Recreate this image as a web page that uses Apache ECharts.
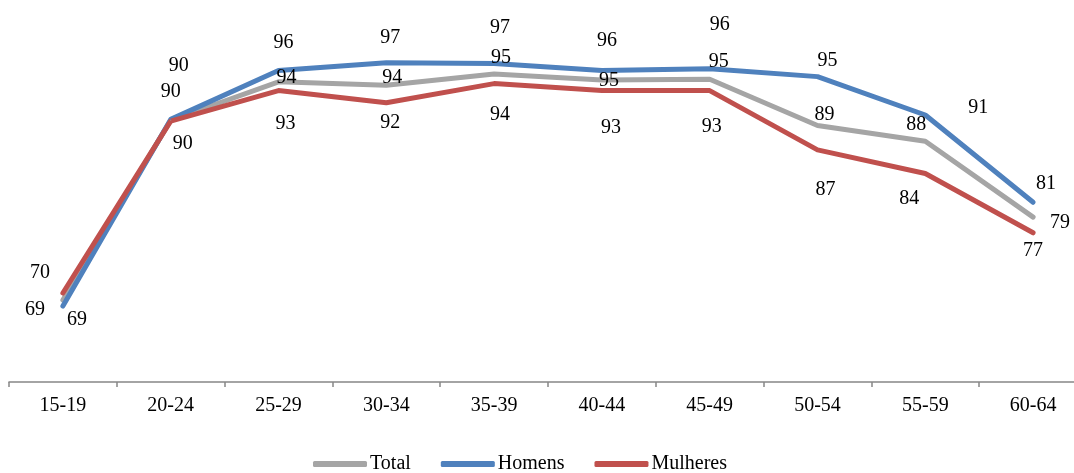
<!DOCTYPE html>
<html>
<head>
<meta charset="utf-8">
<script src="https://cdn.jsdelivr.net/npm/echarts@6/dist/echarts.min.js"></script>
<style>
  html, body { margin: 0; padding: 0; background: #ffffff; overflow: hidden; }
  /* the category axis runs a little past the right edge of the window */
  #chart { width: 1090px; height: 473px; }
</style>
</head>
<body>
<div id="chart"></div>
<script>
// Age groups
const categories = ['15-19', '20-24', '25-29', '30-34', '35-39', '40-44', '45-49', '50-54', '55-59', '60-64'];

// Rates by age group (%)
const totalValues    = [69.4, 90.0, 94.4, 94.0, 95.3, 94.6, 94.7, 89.4, 87.6, 78.9];
const homensValues   = [68.7, 90.1, 95.7, 96.6, 96.5, 95.7, 95.9, 95.0, 90.6, 80.6];
const mulheresValues = [70.2, 89.9, 93.4, 92.0, 94.2, 93.4, 93.4, 86.6, 83.9, 77.1];

// Hand-placed nudges for each value label, [dx, dy] from its point
const totalNudge    = [[-28, 10], [0, -29], [8, -4], [6, -8], [7, -16], [7, 1], [9, -17], [7, -11], [-9, -16], [27, 6]];
const homensNudge   = [[14, 14], [8, -54], [5, -28], [4, -25], [6, -36], [5, -30], [10, -44], [10, -16], [53, -7], [13, -19]];
const mulheresNudge = [[-23, -20], [12, 23], [7, 33], [4, 20], [6, 31], [9, 37], [2, 36], [8, 40], [-16, 25], [0, 18]];

const FONT = "'Liberation Serif', 'DejaVu Serif', serif";

function lineSeries(name, color, values, nudges) {
  return {
    name: name,
    type: 'line',
    symbol: 'circle',
    symbolSize: 1,
    showSymbol: true,
    color: color,
    itemStyle: { color: color },
    lineStyle: { width: 5, color: color, cap: 'round', join: 'round' },
    label: {
      show: true,
      position: 'inside',
      align: 'center',
      verticalAlign: 'middle',
      fontFamily: FONT,
      fontSize: 20,
      color: '#000000',
      formatter: p => Math.round(p.value).toString()
    },
    data: values.map((v, i) => ({ value: v, label: { offset: nudges[i] } }))
  };
}

const chart = echarts.init(document.getElementById('chart'), null, { renderer: 'canvas' });
chart.setOption({
  animation: false,
  backgroundColor: '#ffffff',
  textStyle: { fontFamily: FONT },
  grid: { left: 9, right: 3, top: 33, bottom: 91, containLabel: false },
  xAxis: {
    type: 'category',
    data: categories,
    boundaryGap: true,
    axisLine: { show: true, lineStyle: { color: '#868686', width: 1.5 } },
    axisTick: { show: true, length: 5, lineStyle: { color: '#868686', width: 1.5 } },
    axisLabel: { fontFamily: FONT, fontSize: 20, color: '#000000', margin: 14 },
    splitLine: { show: false }
  },
  yAxis: {
    type: 'value',
    min: 60,
    max: 100,
    show: false,
    splitLine: { show: false }
  },
  legend: {
    left: 308,
    top: 449,
    icon: 'roundRect',
    itemWidth: 54,
    itemHeight: 6,
    itemGap: 30,
    textStyle: { fontFamily: FONT, fontSize: 20, color: '#000000', padding: [0, 0, 0, -2] },
    data: ['Total', 'Homens', 'Mulheres']
  },
  series: [
    lineSeries('Total', '#A5A5A5', totalValues, totalNudge),
    lineSeries('Homens', '#4F81BD', homensValues, homensNudge),
    lineSeries('Mulheres', '#C0504D', mulheresValues, mulheresNudge)
  ]
});
</script>
</body>
</html>
